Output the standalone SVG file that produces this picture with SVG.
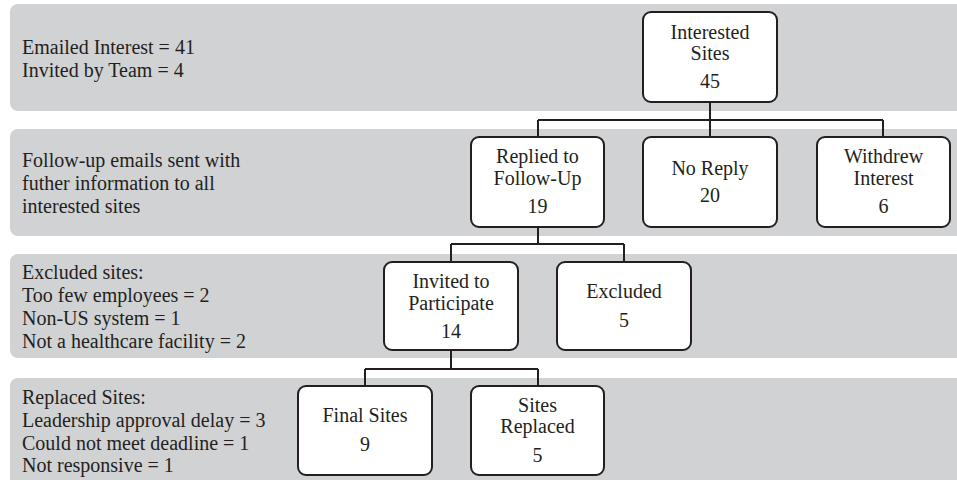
<svg xmlns="http://www.w3.org/2000/svg" width="957" height="480" viewBox="0 0 957 480" font-family="Liberation Serif">
<style>
.band{fill:#d1d2d4;}
.box{fill:#ffffff;stroke:#231f20;stroke-width:2;}
text{font-family:'Liberation Serif','Times New Roman',serif;fill:#231f20;}
.lbl{font-size:20px;}
.nt{font-size:20px;text-anchor:middle;}
.conn{fill:none;stroke:#231f20;stroke-width:2;}
</style>
<rect width="957" height="480" fill="#ffffff"/>
<g id="bands">
<rect class="band" x="10" y="4" width="960" height="107" rx="8"/>
<rect class="band" x="10" y="129" width="960" height="107" rx="8"/>
<rect class="band" x="10" y="254" width="960" height="104" rx="8"/>
<rect class="band" x="10" y="378" width="960" height="112" rx="8"/>
</g>
<g id="notes">
<text class="lbl" x="22" y="54">Emailed Interest = 41</text>
<text class="lbl" x="22" y="77">Invited by Team = 4</text>
<text class="lbl" x="22" y="167">Follow-up emails sent with</text>
<text class="lbl" x="22" y="190">futher information to all</text>
<text class="lbl" x="22" y="213">interested sites</text>
<text class="lbl" x="22" y="279">Excluded sites:</text>
<text class="lbl" x="22" y="302">Too few employees = 2</text>
<text class="lbl" x="22" y="325">Non-US system = 1</text>
<text class="lbl" x="22" y="348">Not a healthcare facility = 2</text>
<text class="lbl" x="22" y="404">Replaced Sites:</text>
<text class="lbl" x="22" y="427">Leadership approval delay = 3</text>
<text class="lbl" x="22" y="450">Could not meet deadline = 1</text>
<text class="lbl" x="22" y="472">Not responsive = 1</text>
</g>
<g id="connectors">
<path class="conn" d="M710,102 V120 M538,120 H883 M538,120 V137 M710,120 V137 M883,120 V137"/>
<path class="conn" d="M538,227 V244 M451,244 H624 M451,244 V262 M624,244 V262"/>
<path class="conn" d="M451,350 V369 M365,369 H538 M365,369 V386 M538,369 V386"/>
</g>
<g id="interested">
<rect class="box" x="643" y="12" width="134" height="90" rx="8"/>
<text class="nt" x="710" y="39">Interested</text>
<text class="nt" x="710" y="60">Sites</text>
<text class="nt" x="710" y="88">45</text>
</g>
<g id="replied">
<rect class="box" x="471" y="137" width="133" height="90" rx="8"/>
<text class="nt" x="537.5" y="163">Replied to</text>
<text class="nt" x="537.5" y="185">Follow-Up</text>
<text class="nt" x="537.5" y="213">19</text>
</g>
<g id="noreply">
<rect class="box" x="643" y="137" width="134" height="90" rx="8"/>
<text class="nt" x="710" y="175">No Reply</text>
<text class="nt" x="710" y="202">20</text>
</g>
<g id="withdrew">
<rect class="box" x="817" y="137" width="133" height="90" rx="8"/>
<text class="nt" x="883.5" y="163">Withdrew</text>
<text class="nt" x="883.5" y="185">Interest</text>
<text class="nt" x="883.5" y="213">6</text>
</g>
<g id="invited">
<rect class="box" x="384" y="262" width="134" height="88" rx="8"/>
<text class="nt" x="451" y="288">Invited to</text>
<text class="nt" x="451" y="310">Participate</text>
<text class="nt" x="451" y="338">14</text>
</g>
<g id="excluded">
<rect class="box" x="557" y="262" width="134" height="88" rx="8"/>
<text class="nt" x="624" y="298">Excluded</text>
<text class="nt" x="624" y="327">5</text>
</g>
<g id="final">
<rect class="box" x="298" y="386" width="134" height="89" rx="8"/>
<text class="nt" x="365" y="422">Final Sites</text>
<text class="nt" x="365" y="451">9</text>
</g>
<g id="replaced">
<rect class="box" x="471" y="386" width="133" height="89" rx="8"/>
<text class="nt" x="537.5" y="412">Sites</text>
<text class="nt" x="537.5" y="433">Replaced</text>
<text class="nt" x="537.5" y="462">5</text>
</g>
</svg>
